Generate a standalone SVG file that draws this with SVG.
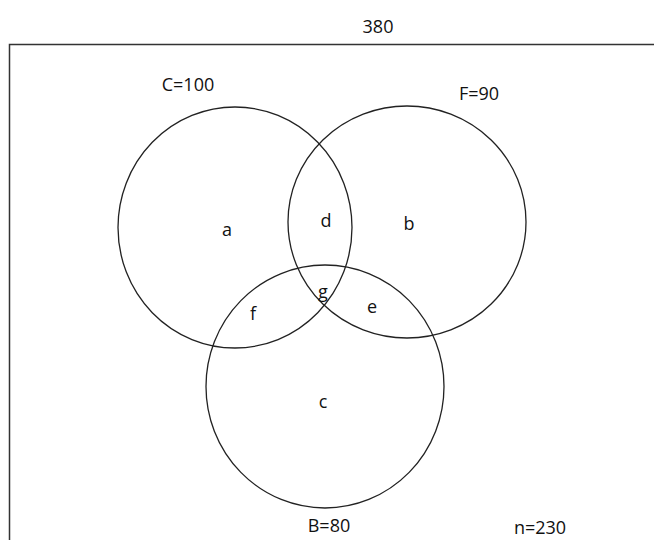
<svg xmlns="http://www.w3.org/2000/svg" width="654" height="540" viewBox="0 0 654 540">
<style>
.t{font-family:"Open Sans","Noto Sans","Liberation Sans",sans-serif;font-size:18px;fill:#111;text-anchor:middle}
.c{fill:none;stroke:#222;stroke-width:1.3}
</style>
<rect width="654" height="540" fill="#fff"/>
<text class="t" x="378" y="33">380</text>
<path d="M9.5 540 V44.5 H654" fill="none" stroke="#333" stroke-width="1.5"/>
<g id="setC">
<ellipse class="c" cx="235" cy="227.5" rx="117" ry="120.5"/>
<text class="t" x="188" y="91">C=100</text>
</g>
<g id="setF">
<ellipse class="c" cx="407" cy="222" rx="119" ry="116"/>
<text class="t" x="479" y="100">F=90</text>
</g>
<g id="setB">
<ellipse class="c" cx="325" cy="386.5" rx="119" ry="121.5"/>
<text class="t" x="329" y="532">B=80</text>
</g>
<g id="regions">
<text class="t" x="227" y="236">a</text>
<text class="t" x="326" y="227">d</text>
<text class="t" x="409" y="230">b</text>
<text class="t" x="323" y="298">g</text>
<text class="t" x="253" y="320">f</text>
<text class="t" x="372" y="313">e</text>
<text class="t" x="323" y="408">c</text>
</g>
<text class="t" x="540" y="534">n=230</text>
<g id="connectors"/>
</svg>
